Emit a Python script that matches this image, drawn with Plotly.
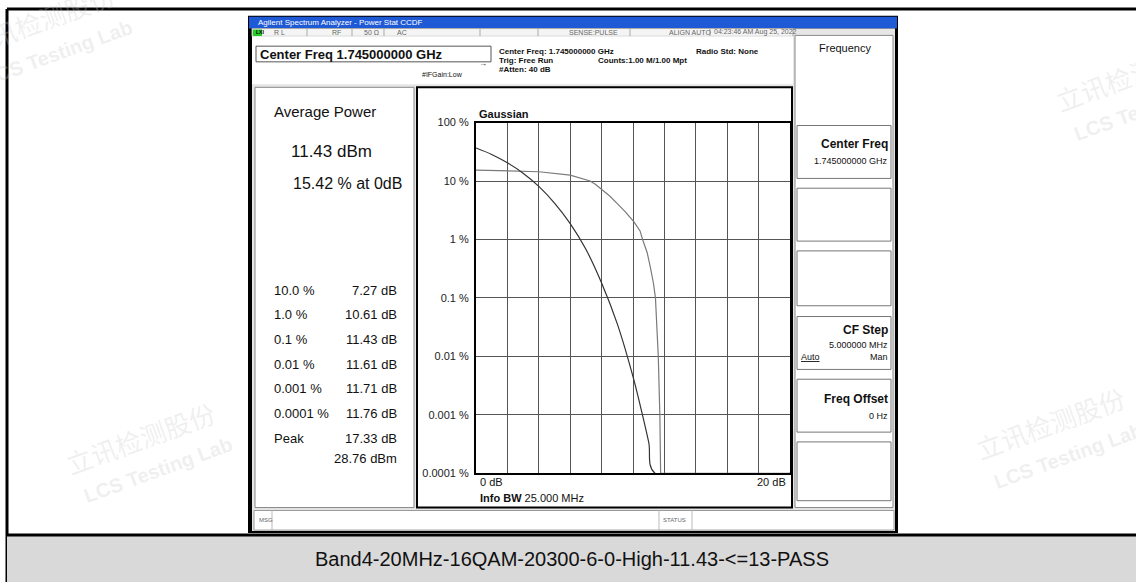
import plotly.graph_objects as go

W, H = 1136, 588

# CCDF readings (dB above average power, probability in %)
gauss_db = [0, 1, 2, 3, 4, 5, 6, 7, 8, 9, 10, 10.5, 11, 11.4, 20]
gauss_pct = [36.8, 28.5, 20.5, 13.6, 8.1, 4.2, 1.87, 0.68, 0.18, 0.036, 0.0045, 0.0013, 0.00034, 0.0001, 0.0001]

signal_db = [0, 2, 4, 6, 7, 7.27, 7.6, 8, 8.5, 9, 9.5, 10.06, 10.45, 10.61, 10.9, 11.1, 11.3,
             11.43, 11.52, 11.61, 11.71, 11.76, 17.33, 20]
signal_pct = [15.42, 15.0, 14.4, 12.6, 10.7, 10.0, 8.8, 7.2, 5.6, 4.1, 3.0, 2.0, 1.4, 1.0, 0.6, 0.34, 0.18,
              0.1, 0.03, 0.01, 0.001, 0.0001, 0.0001, 0.0001]

y_ticks = [100, 10, 1, 0.1, 0.01, 0.001, 0.0001]
y_ticktext = ['100 %', '10 %', '1 %', '0.1 %', '0.01 %', '0.001 %', '0.0001 %']

table_prob = ['10.0 %', '1.0 %', '0.1 %', '0.01 %', '0.001 %', '0.0001 %', 'Peak']
table_db = ['7.27 dB', '10.61 dB', '11.43 dB', '11.61 dB', '11.71 dB', '11.76 dB', '17.33 dB']

caption = 'Band4-20MHz-16QAM-20300-6-0-High-11.43-<=13-PASS'

FONT = 'Liberation Sans, Arial, sans-serif'


def px(x):
    return x / W


def py(y):
    return 1 - y / H


shapes = []
annotations = []


def rect(x0, y0, x1, y1, fill=None, line=None, width=1):
    shapes.append(dict(
        type='rect', xref='paper', yref='paper',
        x0=px(x0), x1=px(x1), y0=py(y1), y1=py(y0),
        fillcolor=fill or 'rgba(0,0,0,0)',
        line=dict(color=line or 'rgba(0,0,0,0)', width=width if line else 0),
        layer='below',
    ))


def hline(x0, x1, y, color='#000', width=1):
    shapes.append(dict(type='line', xref='paper', yref='paper', x0=px(x0), x1=px(x1),
                       y0=py(y), y1=py(y), line=dict(color=color, width=width), layer='below'))


def vline(x, y0, y1, color='#000', width=1):
    shapes.append(dict(type='line', xref='paper', yref='paper', x0=px(x), x1=px(x),
                       y0=py(y0), y1=py(y1), line=dict(color=color, width=width), layer='below'))


def txt(x, y, s, size=11, anchor='left', color='#111', bold=False, family=FONT, angle=0):
    annotations.append(dict(
        x=px(x), y=py(y), xref='paper', yref='paper',
        text=f'<b>{s}</b>' if bold else s,
        showarrow=False, xanchor=anchor, yanchor='middle', textangle=angle,
        font=dict(size=size, color=color, family=family),
    ))


# watermarks (faint, partly running off the page like the original)
wm = 'rgba(200,200,200,0.28)'
for cx, cy in [(140, 440), (1050, 425), (40, 14), (1130, 70)]:
    txt(cx, cy, '立讯检测股份', 26, 'center', wm, family='Noto Sans CJK SC', angle=-20)
    txt(cx + 18, cy + 34, 'LCS Testing Lab', 20, 'center', wm, bold=True, angle=-20)

# page cell borders and caption bar
vline(7, 3, 588, '#000', 3)
hline(7, 1136, 3, '#000', 3)
rect(7, 540, 1136, 588, fill='#d9d9d9')
hline(7, 1136, 540, '#000', 3)
txt(572, 565, caption, 20, 'center', '#111')

# analyzer screen
rect(248, 10, 898, 538, fill='#000')
rect(249, 11, 897, 23, fill='#1f5ad6')
txt(256, 17, 'Agilent Spectrum Analyzer - Power Stat CCDF', 8, color='#fff')
rect(252, 23, 895, 536, fill='#e6e6e6')
rect(252, 23, 793, 31, fill='#f4f4f4', line='#aaa')
rect(253, 24, 262, 31, fill='#22cc22')
txt(254, 27, 'LXI', 5, color='#000', bold=True)
for x in [307, 352, 384, 480, 538, 630, 710]:
    vline(x, 23, 31, '#aaa')
for x, s in [(272, 'R L'), (330, 'RF'), (362, '50 Ω'), (395, 'AC'), (567, 'SENSE:PULSE'),
             (667, 'ALIGN AUTO'), (712, '04:23:46 AM Aug 25, 2022')]:
    txt(x, 27, s, 7, color='#666')
rect(252, 31, 793, 80, fill='#fff')
rect(256, 41, 491, 57, fill='#fff', line='#555')
txt(258, 49, 'Center Freq 1.745000000 GHz', 13, color='#111', bold=True)
txt(497, 46, 'Center Freq: 1.745000000 GHz', 8, color='#111', bold=True)
txt(497, 56, 'Trig: Free Run', 8, color='#111', bold=True)
txt(497, 65, '#Atten: 40 dB', 8, color='#111', bold=True)
txt(596, 56, 'Counts:1.00 M/1.00 Mpt', 8, color='#111', bold=True)
txt(694, 46, 'Radio Std: None', 8, color='#111', bold=True)
txt(477, 59, '→', 8, color='#111')
txt(420, 70, '#IFGain:Low', 7, color='#111')

# left results panel
rect(255, 83, 414, 512, fill='#fff', line='#888')
txt(272, 108, 'Average Power', 15)
txt(289, 149, '11.43 dBm', 17)
txt(291, 181, '15.42 % at 0dB', 16)
for i, (p, d) in enumerate(zip(table_prob, table_db)):
    y = 290 + i * 25.2
    txt(272, y, p, 13)
    txt(399, y, d, 13, 'right')
txt(399, 462, '28.76 dBm', 13, 'right')

# graph panel
rect(417, 83, 792, 512, fill='#fff', line='#000', width=2)
txt(477, 110, 'Gaussian', 11, bold=True)
txt(478, 486, '0 dB', 11)
txt(788, 486, '20 dB', 11, 'right')
txt(478, 502, '<b>Info BW</b> 25.000 MHz', 11)

# softkey panel
rect(795, 30, 893, 512, fill='#fff', line='#888')
txt(845, 43, 'Frequency', 11, 'center')
for y0, y1 in [(122, 176), (186, 240), (250, 306), (317, 371), (381, 435), (445, 505)]:
    rect(797, y0, 891, y1, fill='#fff', line='#777')
txt(890, 141, 'Center Freq', 12, 'right', bold=True)
txt(890, 158, '1.745000000 GHz', 9, 'right')
txt(890, 331, 'CF Step', 12, 'right', bold=True)
txt(890, 346, '5.000000 MHz', 9, 'right')
txt(799, 358, '<u>Auto</u>', 9)
txt(890, 358, 'Man', 9, 'right')
txt(890, 401, 'Freq Offset', 12, 'right', bold=True)
txt(890, 419, '0 Hz', 9, 'right')

# status bar
rect(254, 515, 894, 535, fill='#fff', line='#999')
vline(272, 515, 535, '#bbb')
vline(659, 515, 535, '#bbb')
vline(692, 515, 535, '#bbb')
txt(257, 525, 'MSG', 6, color='#666')
txt(661, 525, 'STATUS', 6, color='#666')

fig = go.Figure()
fig.add_trace(go.Scatter(
    x=signal_db, y=signal_pct, mode='lines',
    line=dict(color='#7a7a7a', width=1.2), cliponaxis=False, showlegend=False,
))
fig.add_trace(go.Scatter(
    x=gauss_db, y=gauss_pct, mode='lines', line_shape='spline',
    line=dict(color='#333', width=1.2), cliponaxis=False, showlegend=False,
))

fig.update_layout(
    width=W, height=H,
    margin=dict(l=0, r=0, t=0, b=0),
    paper_bgcolor='#fff', plot_bgcolor='rgba(0,0,0,0)',
    shapes=shapes, annotations=annotations,
    xaxis=dict(
        domain=[px(476), px(790)], range=[0, 20], dtick=2,
        showticklabels=False, ticks='',
        showgrid=True, gridcolor='#555', gridwidth=1, zeroline=False,
        showline=True, linecolor='#000', linewidth=2, mirror=True,
    ),
    yaxis=dict(
        domain=[py(477), py(119)], type='log', range=[-4, 2],
        tickvals=y_ticks, ticktext=y_ticktext,
        tickfont=dict(size=11, color='#222', family=FONT), ticks='', ticklabelstandoff=3,
        showgrid=True, gridcolor='#555', gridwidth=1, zeroline=False,
        showline=True, linecolor='#000', linewidth=2, mirror=True,
    ),
)

# the page's default body margin would push the figure 8px right and down
fig.write_html('out.html', config={'displayModeBar': False},
               post_script="document.body.style.margin='0';")
